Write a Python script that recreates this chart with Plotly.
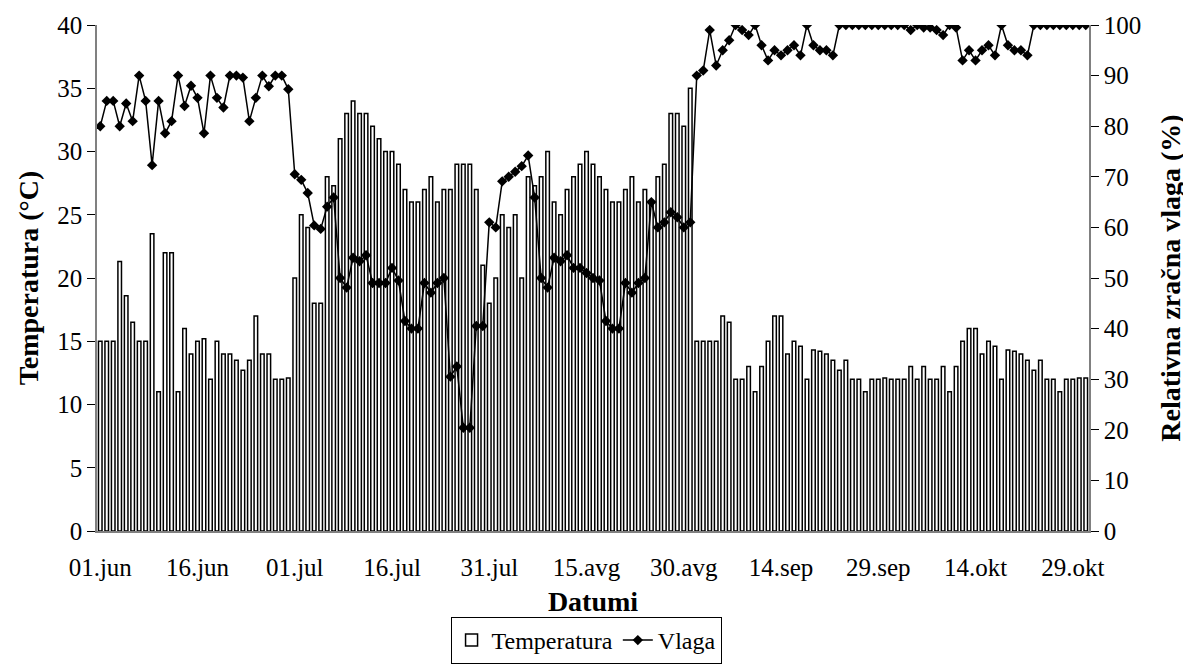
import plotly.graph_objects as go

# ---- data ----
months = [("jun", 30), ("jul", 31), ("avg", 31), ("sep", 30), ("okt", 31)]
dates = [f"{d:02d}.{m}" for m, n in months for d in range(1, n + 1)]

tick_labels = ["01.jun", "16.jun", "01.jul", "16.jul", "31.jul", "15.avg",
               "30.avg", "14.sep", "29.sep", "14.okt", "29.okt"]

temperatura = [
    15, 15, 15, 21.3, 18.6, 16.5, 15, 15, 23.5, 11,
    22, 22, 11, 16, 14, 15, 15.2, 12, 15, 14,
    14, 13.5, 12.7, 13.5, 17, 14, 14, 12, 12, 12.1,
    20, 25, 24, 18, 18, 28, 27.3, 31, 33, 34,
    33, 33, 32, 31, 30, 30, 29, 27, 26, 26,
    27, 28, 26, 27, 27, 29, 29, 29, 27, 21,
    18, 20, 25, 24, 25, 20, 28, 27.3, 28, 30,
    26, 25, 27, 28, 29, 30, 29, 28, 27, 26,
    26, 27, 28, 26, 27, 26, 28, 29, 33, 33,
    32, 35, 15, 15, 15, 15, 17, 16.5, 12, 12,
    13, 11, 13, 15, 17, 17, 14, 15, 14.6, 12,
    14.3, 14.2, 14, 13.5, 12.7, 13.5, 12, 12, 11, 12,
    12, 12.1, 12, 12, 12, 13, 12, 13, 12, 12,
    13, 11, 13, 15, 16, 16, 14, 15, 14.6, 12,
    14.3, 14.2, 14, 13.5, 12.7, 13.5, 12, 12, 11, 12,
    12, 12.1, 12.1]

vlaga = [
    80, 85, 85, 80, 84.5, 81, 90, 85, 72.3, 85,
    78.6, 81, 90, 84, 88, 85.6, 78.6, 90, 85.6, 83.7,
    90, 90, 89.6, 81, 85.6, 90, 87.9, 90, 90, 87.3,
    70.5, 69.4, 66.8, 60.4, 59.7, 64.1, 65.9, 50, 48.1, 54,
    53.3, 54.5, 49, 49, 49, 52, 49.5, 41.5, 40, 40,
    49, 47.1, 49, 50, 30.5, 32.5, 20.4, 20.4, 40.5, 40.5,
    61, 60, 69.1, 70, 71, 72.1, 74.2, 65.9, 50, 48.1,
    54, 53.3, 54.5, 52, 52, 51, 50, 49.5, 41.5, 40,
    40, 49, 47.1, 49, 50, 65, 60, 61, 63, 62,
    60, 61, 90, 91, 99, 92, 95, 97, 100, 99,
    98, 100, 96, 93, 95, 94, 95, 96, 94, 100,
    96, 95, 95, 94, 100, 100, 100, 100, 100, 100,
    100, 100, 100, 100, 100, 99, 100, 99.5, 99.5, 99,
    98, 100, 99.5, 93, 95, 93, 95, 96, 94, 100,
    96, 95, 95, 94, 100, 100, 100, 100, 100, 100,
    100, 100, 100]

# ---- figure ----
idx = list(range(len(dates)))
tickvals = [dates.index(t) for t in tick_labels]
xr = [-0.5, len(dates) - 0.5]

FONT = "Liberation Serif, Times New Roman, serif"

fig = go.Figure()
fig.add_trace(go.Bar(
    x=idx, y=temperatura, name="Temperatura", width=0.55,
    customdata=dates, hovertemplate="%{customdata}: %{y} °C<extra></extra>",
    marker=dict(color="white", line=dict(color="black", width=1.5)),
))
fig.add_trace(go.Scatter(
    x=idx, y=vlaga, name="Vlaga", yaxis="y2", mode="lines+markers",
    customdata=dates, hovertemplate="%{customdata}: %{y} %<extra></extra>",
    line=dict(color="black", width=1.5),
    marker=dict(symbol="diamond", size=8, color="black"),
))

tickfont = dict(family=FONT, size=25, color="black")
titlefont = dict(family=FONT, size=28, color="black", weight="bold")

# page body has an 8px default margin; the figure is sized to fit the window
fig.update_layout(
    width=1183, height=660,
    margin=dict(l=89, r=102, t=17, b=137),
    paper_bgcolor="white", plot_bgcolor="white",
    font=dict(family=FONT, color="black"),
    showlegend=True,
    legend=dict(
        orientation="h", x=0.493, xanchor="center",
        yref="container", y=1 - 609 / 660, yanchor="top",
        bordercolor="black", borderwidth=1, font=dict(family=FONT, size=24),
        itemwidth=30, tracegroupgap=0,
    ),
    xaxis=dict(
        range=xr, tickmode="array", tickvals=tickvals, ticktext=tick_labels,
        ticks="outside", ticklen=13, tickcolor="rgba(0,0,0,0)",
        tickfont=tickfont, showgrid=False, zeroline=False, automargin=False,
        showline=True, linecolor="#808080", linewidth=1.5,
        title=dict(text="Datumi", font=titlefont, standoff=22),
    ),
    xaxis3=dict(
        range=xr, overlaying="x", anchor="y", tickmode="linear", tick0=-0.5, dtick=1,
        ticks="outside", ticklen=7, tickcolor="black", showticklabels=False,
        showgrid=False, zeroline=False, showline=False, automargin=False,
    ),
    xaxis4=dict(
        range=xr, overlaying="x", anchor="y", tickmode="linear", tick0=-0.5, dtick=1,
        ticks="inside", ticklen=7, tickcolor="#999999", showticklabels=False,
        showgrid=False, zeroline=False, showline=False, automargin=False,
    ),
    yaxis=dict(
        range=[0, 40], dtick=5, ticks="outside", ticklen=8, tickcolor="black",
        tickfont=tickfont, showgrid=False, zeroline=False, automargin=False,
        showline=True, linecolor="#808080", linewidth=1.5,
        title=dict(text="Temperatura (°C)", font=titlefont, standoff=10),
    ),
    yaxis3=dict(
        range=[0, 40], dtick=5, overlaying="y", anchor="x", side="left",
        ticks="inside", ticklen=8, tickcolor="black", showticklabels=False,
        showgrid=False, zeroline=False, showline=False, automargin=False,
    ),
    yaxis2=dict(
        range=[0, 100], dtick=10, overlaying="y", side="right", anchor="x",
        ticks="outside", ticklen=8, tickcolor="black",
        tickfont=tickfont, showgrid=False, zeroline=False, automargin=False,
        showline=True, linecolor="#808080", linewidth=1.5,
        title=dict(text="Relativna zračna vlaga (%)", font=titlefont, standoff=20),
    ),
    yaxis4=dict(
        range=[0, 100], dtick=10, overlaying="y", side="right", anchor="x",
        ticks="inside", ticklen=8, tickcolor="black", showticklabels=False,
        showgrid=False, zeroline=False, showline=False, automargin=False,
    ),
)

fig.write_html("out.html")
